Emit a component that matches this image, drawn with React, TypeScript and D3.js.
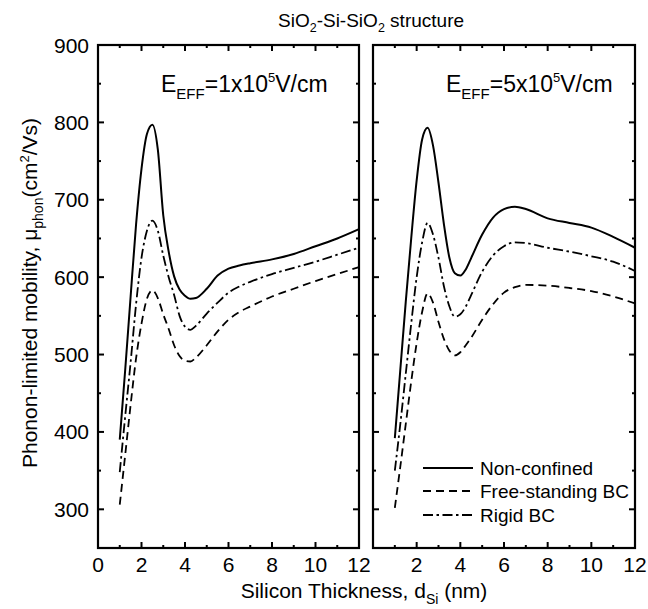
import React from "react";
import * as d3 from "d3";

const thickness = [1, 1.25, 1.5, 1.75, 2, 2.25, 2.5, 2.75, 3, 3.25, 3.5, 3.75, 4, 4.25, 4.5, 5, 5.5, 6, 6.5, 7, 8, 9, 10, 11, 12];

// E_EFF = 1x10^5 V/cm
const leftNonConfined = [390, 480, 575, 668, 740, 785, 797, 765, 680, 633, 601, 584, 576, 572, 573, 585, 602, 611, 615, 618, 623, 630, 640, 650, 662];
const leftRigid = [348, 420, 490, 565, 625, 660, 673, 660, 628, 600, 577, 550, 536, 532, 537, 553, 567, 580, 588, 594, 604, 612, 620, 629, 638];
const leftFree = [306, 370, 435, 495, 540, 572, 583, 573, 552, 533, 512, 498, 492, 491, 496, 512, 530, 545, 555, 562, 575, 585, 595, 604, 613];

// E_EFF = 5x10^5 V/cm
const rightNonConfined = [392, 480, 568, 650, 725, 778, 793, 770, 722, 668, 625, 605, 602, 610, 625, 655, 677, 688, 691, 688, 676, 670, 664, 652, 638];
const rightRigid = [350, 410, 475, 540, 600, 645, 670, 655, 625, 588, 562, 549, 552, 562, 577, 607, 628, 640, 645, 644, 638, 633, 627, 620, 608];
const rightFree = [302, 355, 410, 465, 515, 555, 579, 567, 542, 520, 505, 499, 503, 512, 522, 545, 565, 580, 587, 590, 589, 586, 582, 575, 566];

const xMajorTicks = [0, 2, 4, 6, 8, 10, 12];
const xMinorTicks = [1, 3, 5, 7, 9, 11];
const yMajorTicks = [300, 400, 500, 600, 700, 800, 900];
const yMinorTicks = [250, 350, 450, 550, 650, 750, 850];
const legendLabels = ["Non-confined", "Free-standing BC", "Rigid BC"];
const fieldLabels = ["1x10", "5x10"];

const FONT = "'Liberation Sans', Arial, Helvetica, sans-serif";
const DASH = "8,5";
const DASHDOT = "10,3.5,2.5,3.5";

const panels = [
  { x0: 98, x1: 359, series: [leftNonConfined, leftFree, leftRigid], field: fieldLabels[0], showZero: true, annX: 161 },
  { x0: 373, x1: 635, series: [rightNonConfined, rightFree, rightRigid], field: fieldLabels[1], showZero: false, annX: 446 },
];
const styles = [
  { dash: undefined as string | undefined, w: 2 },
  { dash: DASH, w: 1.8 },
  { dash: DASHDOT, w: 1.8 },
];

const yTop = 45;
const yBottom = 548;

export default function App() {
  const y = d3.scaleLinear().domain([250, 900]).range([yBottom, yTop]);
  return (
    <svg width={648} height={609} style={{ position: "absolute", left: 0, top: 0, background: "#fff" }} fontFamily={FONT}>
      <rect width={648} height={609} fill="#fff" />
      <text x={278} y={27} fontSize={19} fill="#000">
        SiO<tspan fontSize={12.5} dy={5}>2</tspan><tspan dy={-5}>-Si-SiO</tspan><tspan fontSize={12.5} dy={5}>2</tspan><tspan dy={-5}> structure</tspan>
      </text>
      {yMajorTicks.map((t) => (
        <text key={"yl" + t} x={89} y={y(t) + 7.5} fontSize={21} textAnchor="end">{t}</text>
      ))}
      <text transform={`translate(37,${293}) rotate(-90)`} textAnchor="middle" fontSize={21}>
        Phonon-limited mobility, μ<tspan fontSize={14} dy={6}>phon</tspan><tspan dy={-6}>(cm</tspan><tspan fontSize={13} dy={-8}>2</tspan><tspan dy={8}>/Vs)</tspan>
      </text>
      <text x={364} y={598} textAnchor="middle" fontSize={21}>
        Silicon Thickness, d<tspan fontSize={14} dy={6}>Si</tspan><tspan dy={-6}> (nm)</tspan>
      </text>
      {panels.map((p, pi) => {
        const x = d3.scaleLinear().domain([0, 12]).range([p.x0, p.x1]);
        const line = d3
          .line<number>()
          .x((_, i) => x(thickness[i]))
          .y((v) => y(v))
          .curve(d3.curveMonotoneX);
        return (
          <g key={pi}>
            {p.series.map((s, si) => (
              <path key={si} d={line(s) || ""} fill="none" stroke="#000" strokeWidth={styles[si].w} strokeDasharray={styles[si].dash} strokeLinejoin="round" />
            ))}
            {xMajorTicks.map((t) => (
              <g key={"xM" + t}>
                <line x1={x(t)} x2={x(t)} y1={yBottom} y2={yBottom - 6} stroke="#000" strokeWidth={2} />
                <line x1={x(t)} x2={x(t)} y1={yTop} y2={yTop + 6} stroke="#000" strokeWidth={2} />
                {(t !== 0 || p.showZero) && (
                  <text x={x(t)} y={572} fontSize={21} textAnchor="middle">{t}</text>
                )}
              </g>
            ))}
            {xMinorTicks.map((t) => (
              <g key={"xm" + t}>
                <line x1={x(t)} x2={x(t)} y1={yBottom} y2={yBottom - 3} stroke="#000" strokeWidth={2} />
                <line x1={x(t)} x2={x(t)} y1={yTop} y2={yTop + 3} stroke="#000" strokeWidth={2} />
              </g>
            ))}
            {yMajorTicks.map((t) => (
              <g key={"yM" + t}>
                <line x1={p.x0} x2={p.x0 + 6} y1={y(t)} y2={y(t)} stroke="#000" strokeWidth={2} />
                <line x1={p.x1} x2={p.x1 - 6} y1={y(t)} y2={y(t)} stroke="#000" strokeWidth={2} />
              </g>
            ))}
            {yMinorTicks.map((t) => (
              <g key={"ym" + t}>
                <line x1={p.x0} x2={p.x0 + 3} y1={y(t)} y2={y(t)} stroke="#000" strokeWidth={2} />
                <line x1={p.x1} x2={p.x1 - 3} y1={y(t)} y2={y(t)} stroke="#000" strokeWidth={2} />
              </g>
            ))}
            <rect x={p.x0} y={yTop} width={p.x1 - p.x0} height={yBottom - yTop} fill="none" stroke="#000" strokeWidth={2.2} />
            <text x={p.annX} y={92} fontSize={23}>
              E<tspan fontSize={15} dy={7}>EFF</tspan><tspan dy={-7}>={p.field}</tspan><tspan fontSize={13} dy={-10}>5</tspan><tspan dy={10}>V/cm</tspan>
            </text>
          </g>
        );
      })}
      {legendLabels.map((l, i) => {
        const ly = [468, 491, 515][i];
        const st = styles[i];
        return (
          <g key={l}>
            <line x1={423} x2={473} y1={ly} y2={ly} stroke="#000" strokeWidth={st.w} strokeDasharray={st.dash} />
            <text x={480} y={ly + 7} fontSize={19}>{l}</text>
          </g>
        );
      })}
    </svg>
  );
}
